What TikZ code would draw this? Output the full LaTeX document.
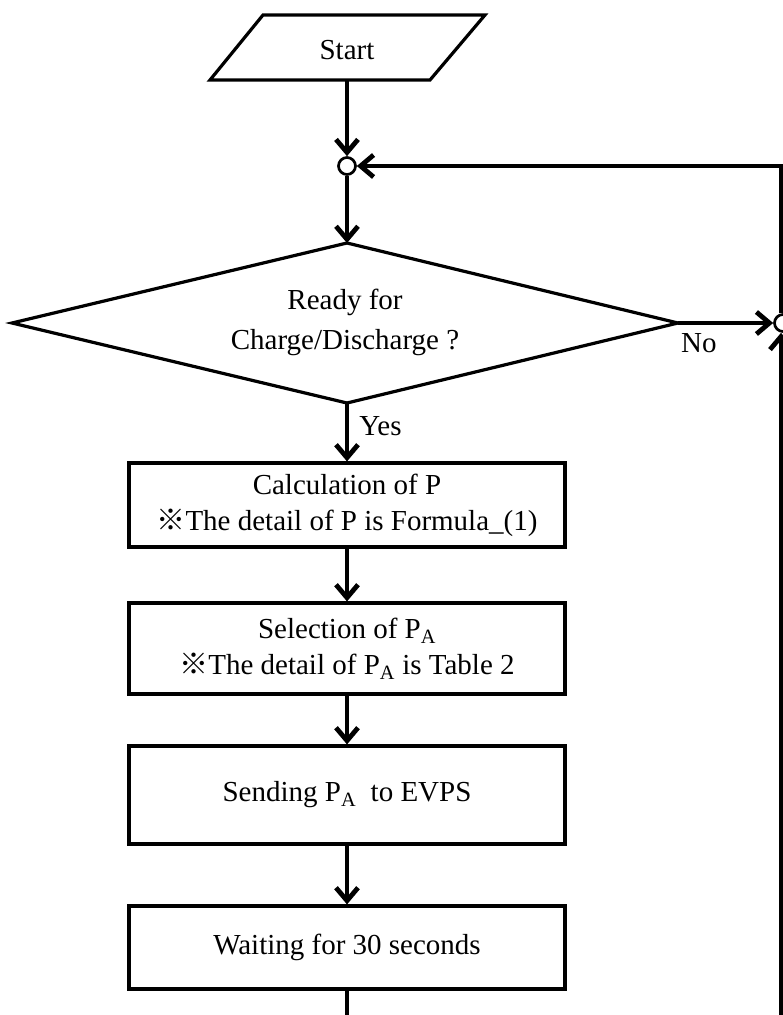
\documentclass[tikz,border=0pt]{standalone}
\usepackage{fontspec}
\setmainfont{Liberation Serif}
\newfontfamily\cjk{Noto Sans CJK JP}
\usetikzlibrary{arrows.meta}
\newcommand{\refmark}{{\cjk ※}}
\begin{document}
\begin{tikzpicture}[x=1pt,y=-1pt,
  every node/.style={font=\fontsize{29}{36}\selectfont, inner sep=0pt},
  shape line/.style={line width=3.2pt, line join=miter},
  flow/.style={line width=4.8pt, -{Straight Barb[length=13pt,width=22pt,line width=4.8pt]}},
  plain flow/.style={line width=4.8pt},
  joint/.style={circle, draw, line width=2.7pt, minimum size=17pt, fill=white},
  procbox/.style={draw, line width=3.2pt, minimum width=436pt, align=center},
  lbl/.style={font=\fontsize{29}{34}\selectfont}]
\useasboundingbox (0,0) rectangle (783,1015);

% start terminal
\draw[shape line] (263,15) -- (485,15) -- (430,80) -- (210,80) -- cycle;
\node (start) at (347,50) {Start};
\coordinate (startb) at (347,80);

% merge points
\node[joint] (j1) at (347,166) {};
\node[joint] (j2) at (783,323) {};

% decision
\coordinate (dT) at (347,243);
\coordinate (dB) at (347,403);
\coordinate (dL) at (12,323);
\coordinate (dR) at (678,323);
\draw[shape line] (dL) -- (dT) -- (dR) -- (dB) -- cycle;
\node[align=center, font=\fontsize{29}{40}\selectfont] (dec) at (345,322)
  {Ready for\\Charge/Discharge ?};

% process steps
\node[procbox, minimum height=84pt] (calc) at (347,505)
  {Calculation of P\\\refmark The detail of P is Formula\_(1)};
\node[procbox, minimum height=91pt] (sel) at (347,648.5)
  {Selection of P\textsubscript{A}\\\refmark The detail of P\textsubscript{A} is Table 2};
\node[procbox, minimum height=98pt] (send) at (347,795)
  {Sending P\textsubscript{A}\ \ to EVPS};
\node[procbox, minimum height=83pt] (wait) at (347,947.5)
  {Waiting for 30 seconds};

\coordinate (bottom) at (347,1015);
\coordinate (rb) at (781,1015);
\coordinate (rt) at (781,166);

% connectors
\draw[flow] (startb) -- (j1);
\draw[flow] (j1) -- (dT);
\draw[flow] (dB) -- (calc.north) node[lbl, pos=0.4, right=10pt] {Yes};
\draw[flow] (calc) -- (sel);
\draw[flow] (sel) -- (send);
\draw[flow] (send) -- (wait);
\draw[plain flow] (wait) -- (bottom);
\draw[flow] (dR) -- (j2) node[lbl, pos=0.22, below=8pt] {No};
\draw[flow] (rb) -- (rb |- j2.south);
\draw[flow] (rb |- j2.north) -- (rt) -- (j1);
\end{tikzpicture}
\end{document}
